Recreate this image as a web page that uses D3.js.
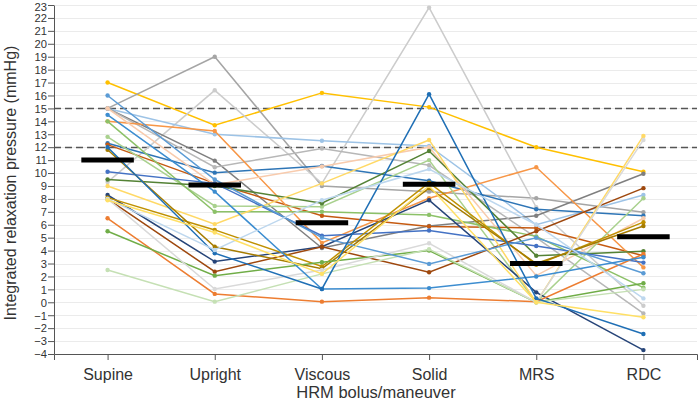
<!DOCTYPE html>
<html><head><meta charset="utf-8">
<script src="https://cdn.jsdelivr.net/npm/d3@7"></script>
<style>body{margin:0;background:#fff}svg{display:block}text{font-family:"Liberation Sans",Arial,sans-serif;fill:#333}</style>
</head><body><svg id="c" width="698" height="403"></svg>
<script>
const categories = ["Supine","Upright","Viscous","Solid","MRS","RDC"];
const yTicks = d3.range(-4, 24);
const refLines = [15, 12];
const medians = [11.0, 9.08, 6.16, 9.13, 3.0, 5.08];
const seriesColors = ["#FFC000","#A5A5A5","#CCCCCC","#9DC3E6","#2E75B6","#7F7F7F","#B7B7B7","#C55A11","#F79646","#F8CBAD","#A9D18E","#8CC168","#548235","#4472C4","#264478","#9E480E","#FFD966","#BF9000","#A67C00","#ED7D31","#70AD47","#C5E0B4","#D9D9D9","#5B9BD5","#3C8DD0","#1F6FB5","#BDD7EE","#FFE066"];
const s01 = [17, 13.7, 16.2, 15.1, 12.0, 10.1];
const s02 = [15, 19, 9.0, 8.56, 8.05, 6.97];
const s03 = [9.3, 16.4, 9.2, 22.8, 7.35, -0.27];
const s04 = [15, 13.0, 12.5, 12.1, 6.0, 8.3];
const s05 = [12.3, 10.03, 10.55, 9.4, 7.2, 6.7];
const s06 = [15, 10.96, 4.2, 5.9, 6.7, 9.94];
const s07 = [15, 10.45, 11.9, 10.6, 5.0, -0.86];
const s08 = [12.2, 9.2, 6.7, 5.86, 5.75, 3.6];
const s09 = [14, 13.25, 4.6, 8.05, 10.45, 2.7];
const s10 = [15, 9.1, 10.5, 12.0, 2.06, 6.5];
const s11 = [12.8, 7.45, 7.4, 11.0, 0, 8.05];
const s12 = [14, 7.0, 7.0, 6.76, 5.1, 1.13];
const s13 = [9.5, 9.0, 7.66, 11.7, 3.6, 3.95];
const s14 = [10.1, 9.2, 5.15, 5.55, 4.36, 3.07];
const s15 = [8.3, 3.15, 4.3, 7.9, 0.77, -3.7];
const s16 = [8.0, 2.37, 4.3, 2.33, 5.5, 8.83];
const s17 = [9.0, 6.05, 9.2, 12.56, 0, 12.87];
const s18 = [8.1, 5.6, 2.77, 9.26, 2.9, 6.2];
const s19 = [11.8, 4.3, 2.6, 8.83, 3.0, 5.9];
const s20 = [6.5, 0.65, 0.05, 0.36, 0.05, 3.74];
const s21 = [5.5, 2.06, 3.1, 4.0, 0, 1.48];
const s22 = [2.5, 0.05, 2.2, 4.1, 0, 1.0];
const s23 = [8.0, 1.03, 2.5, 4.57, 0, 12.56];
const s24 = [16, 9.5, 5.0, 2.97, 5.0, 2.25];
const s25 = [14.5, 8.56, 1.03, 1.1, 2.0, 3.48];
const s26 = [12.0, 3.8, 1.03, 16.1, 0.3, -2.45];
const s27 = [8.0, 4.05, 7.9, 10.3, 6.0, 0.3];
const s28 = [7.9, 5.4, 2.2, 9.0, 0, -1.16];
const series = [s01,s02,s03,s04,s05,s06,s07,s08,s09,s10,s11,s12,s13,s14,s15,s16,s17,s18,s19,s20,s21,s22,s23,s24,s25,s26,s27,s28];

const svg = d3.select("#c");
const x = d3.scalePoint().domain(categories).range([54, 697]).padding(0.5);
const y = d3.scaleLinear().domain([-4, 23]).range([354, 5]);

svg.append("g").selectAll("line").data(yTicks).join("line")
  .attr("x1", 54).attr("x2", 697).attr("y1", d => Math.round(y(d))+0.5).attr("y2", d => Math.round(y(d))+0.5)
  .attr("stroke", "#ebebeb").attr("stroke-width", 1);

svg.append("g").selectAll("line").data(refLines).join("line")
  .attr("x1", 54).attr("x2", 697).attr("y1", d => Math.round(y(d))+0.5).attr("y2", d => Math.round(y(d))+0.5)
  .attr("stroke", "#555").attr("stroke-width", 1.3).attr("stroke-dasharray", "7,4");

const line = d3.line().x((d,i) => x(categories[i])).y(d => y(d));
const g = svg.append("g");
series.forEach((s, k) => {
  g.append("path").attr("d", line(s)).attr("fill", "none")
    .attr("stroke", seriesColors[k]).attr("stroke-width", 1.5);
  g.selectAll(null).data(s).join("circle")
    .attr("cx", (d,i) => x(categories[i])).attr("cy", d => y(d)).attr("r", 2.2)
    .attr("fill", seriesColors[k]);
});

const half = x.step() * 0.245;
svg.append("g").selectAll("line").data(medians).join("line")
  .attr("x1", (d,i) => x(categories[i]) - half).attr("x2", (d,i) => x(categories[i]) + half)
  .attr("y1", d => y(d)).attr("y2", d => y(d))
  .attr("stroke", "#000").attr("stroke-width", 5);

const yAxis = d3.axisLeft(y).tickValues(yTicks).tickSize(6).tickSizeOuter(0).tickFormat(d => d < 0 ? "\u2212" + Math.abs(d) : d);
const ya = svg.append("g").attr("transform", "translate(54,0)").call(yAxis);
ya.select(".domain").attr("stroke", "#555");
ya.selectAll(".tick line").attr("stroke", "#555");
ya.selectAll(".tick text").attr("font-size", 11.2).attr("x", -7)
  .attr("dy", d => d === 23 ? "0.48em" : "0.34em").attr("fill", "#333");

const xAxis = d3.axisBottom(x).tickSize(6).tickSizeOuter(6);
const xa = svg.append("g").attr("transform", "translate(0,354)").call(xAxis);
xa.select(".domain").attr("stroke", "#555");
xa.selectAll(".tick line").attr("stroke", "#555");
xa.selectAll(".tick text").attr("font-size", 16).attr("dy", "1.05em").attr("fill", "#333");

svg.append("text").attr("x", 376).attr("y", 398).attr("text-anchor", "middle")
  .attr("font-size", 16.5).text("HRM bolus/maneuver");
svg.append("text").attr("transform", "translate(16,183) rotate(-90)").attr("text-anchor", "middle")
  .attr("font-size", 16).text("Integrated relaxation pressure (mmHg)");
</script></body></html>
